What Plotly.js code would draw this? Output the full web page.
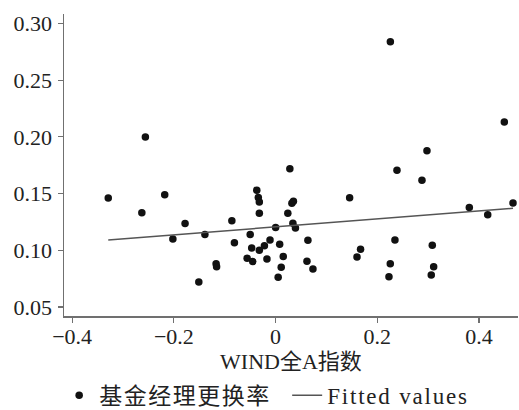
<!DOCTYPE html>
<html>
<head>
<meta charset="utf-8">
<script src="https://cdn.plot.ly/plotly-3.0.1.min.js"></script>
<style>html,body{margin:0;padding:0;background:#fff;}#chart{width:519px;height:410px;}</style>
</head>
<body>
<div id="chart"></div>
<script>
// WIND全A指数 (x) vs 基金经理更换率 (y)
const windIndex = [
  -0.329, -0.263, -0.256, -0.218, -0.202, -0.178, -0.151, -0.139, -0.117, -0.116,
  -0.086, -0.081, -0.050, -0.047, -0.056, -0.045, -0.037, -0.034, -0.032, -0.032,
  -0.032, -0.022, -0.011, -0.017, 0.000, 0.008, 0.015, 0.011, 0.005, 0.028,
  0.024, 0.032, 0.035, 0.034, 0.039, 0.0635, 0.0616, 0.0734, 0.1455, 0.167,
  0.160, 0.2256, 0.2386, 0.2346, 0.2254, 0.2228, 0.2877, 0.2975, 0.308, 0.3107,
  0.306, 0.3808, 0.417, 0.4496, 0.4667
];
const turnoverRate = [
  0.146, 0.133, 0.200, 0.149, 0.110, 0.1235, 0.072, 0.114, 0.088, 0.0855,
  0.126, 0.1066, 0.114, 0.102, 0.093, 0.090, 0.153, 0.1465, 0.1425, 0.1327,
  0.100, 0.104, 0.109, 0.0923, 0.120, 0.1053, 0.0944, 0.085, 0.0762, 0.172,
  0.1326, 0.1414, 0.1432, 0.1238, 0.1197, 0.1088, 0.0903, 0.0835, 0.1464, 0.1009,
  0.0941, 0.284, 0.1706, 0.1091, 0.0882, 0.0767, 0.1617, 0.1878, 0.1044, 0.0855,
  0.0782, 0.1376, 0.1314, 0.2131, 0.1417
];
// Fitted values
const fittedX = [-0.329, 0.4667];
const fittedY = [0.1091, 0.137];

const xTicks = [-0.4, -0.2, 0, 0.2, 0.4];
const yTicks = [0.05, 0.10, 0.15, 0.20, 0.25, 0.30];

const seriesNames = ['基金经理更换率', 'Fitted values'];

const serif = 'Liberation Serif, Noto Sans CJK SC, serif';

const traces = [
  {
    type: 'scatter', mode: 'markers', x: windIndex, y: turnoverRate,
    name: '<span style="letter-spacing:1.5px">' + seriesNames[0] + '</span>',
    marker: {color: '#111111', size: 7.5}
  },
  {
    type: 'scatter', mode: 'lines', x: fittedX, y: fittedY,
    name: '<span style="letter-spacing:1.8px">' + seriesNames[1] + '</span>',
    line: {color: '#555555', width: 1.5}
  }
];

const axisCommon = {
  showgrid: false, zeroline: false, showline: true,
  linecolor: '#707070', linewidth: 1.5,
  ticks: 'outside', ticklen: 5, tickwidth: 1.2, tickcolor: '#707070',
  tickfont: {family: serif, size: 22, color: '#222222'}
};

const layout = {
  width: 519, height: 410,
  margin: {l: 64, r: 1, t: 14, b: 94},
  paper_bgcolor: '#ffffff', plot_bgcolor: '#ffffff',
  showlegend: true,
  xaxis: Object.assign({}, axisCommon, {
    range: [-0.416, 0.4765], tickvals: xTicks, ticklabelstandoff: -5,
    title: {text: 'WIND全A指数', font: {family: serif, size: 22, color: '#222222'}, standoff: 50}
  }),
  yaxis: Object.assign({}, axisCommon, {
    range: [0.042, 0.3084], tickvals: yTicks, tickformat: '.2f', ticklabelstandoff: 1
  }),
  legend: {
    orientation: 'h', xref: 'container', yref: 'container',
    x: 0.114, xanchor: 'left', y: 0.036, yanchor: 'middle',
    entrywidth: 183, entrywidthmode: 'pixels',
    font: {family: serif, size: 23, color: '#222222'},
    bgcolor: 'rgba(0,0,0,0)'
  }
};

Plotly.newPlot('chart', traces, layout, {displayModeBar: false, staticPlot: true});
</script>
</body>
</html>
